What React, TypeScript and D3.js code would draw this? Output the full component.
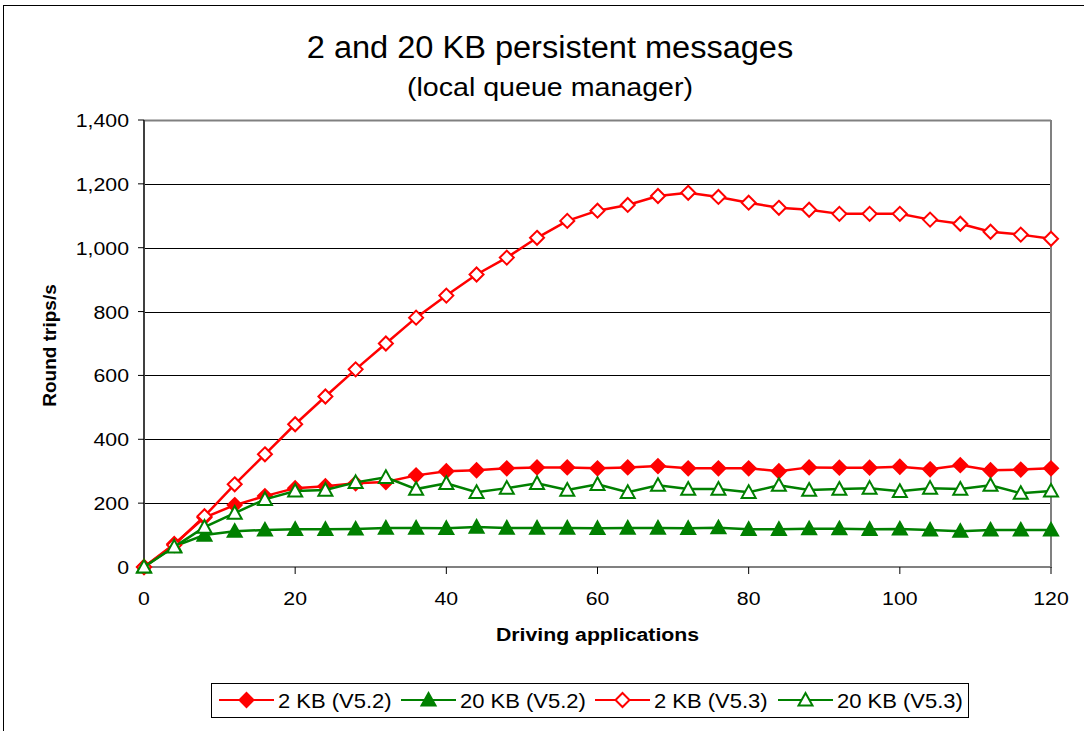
import React from "react";
import * as d3 from "d3";

// driving applications (x)
const apps = [0, 4, 8, 12, 16, 20, 24, 28, 32, 36, 40, 44, 48, 52, 56, 60, 64, 68, 72, 76, 80, 84, 88, 92, 96, 100, 104, 108, 112, 116, 120];

// round trips/s for each series
const kb2v52 = [0, 72, 155, 194, 222, 247, 253, 262, 266, 287, 300, 303, 309, 312, 312, 309, 312, 316, 309, 309, 309, 300, 312, 311, 311, 314, 306, 319, 303, 305, 309];
const kb20v52 = [0, 65, 100, 112, 116, 118, 118, 119, 122, 122, 121, 125, 122, 122, 122, 121, 122, 122, 121, 123, 118, 118, 120, 120, 118, 119, 116, 112, 116, 116, 116];
const kb2v53 = [0, 69, 159, 259, 353, 447, 534, 619, 700, 781, 850, 916, 969, 1031, 1084, 1116, 1134, 1162, 1172, 1159, 1141, 1125, 1119, 1106, 1106, 1106, 1088, 1075, 1050, 1041, 1028];
const kb20v53 = [0, 63, 125, 169, 212, 238, 241, 265, 281, 244, 262, 234, 247, 262, 241, 259, 234, 256, 244, 244, 234, 256, 241, 244, 247, 237, 247, 244, 256, 231, 238];

const series = [
  { name: "2 KB (V5.2)", values: kb2v52, color: "#ff0000", shape: "diamond", filled: true },
  { name: "20 KB (V5.2)", values: kb20v52, color: "#008000", shape: "triangle", filled: true },
  { name: "2 KB (V5.3)", values: kb2v53, color: "#ff0000", shape: "diamond", filled: false },
  { name: "20 KB (V5.3)", values: kb20v53, color: "#008000", shape: "triangle", filled: false },
];

const xTicks = [0, 20, 40, 60, 80, 100, 120];
const yTicks = [0, 200, 400, 600, 800, 1000, 1200, 1400];

const FONT = "Arial, 'Liberation Sans', sans-serif";

const Marker = ({ x, y, shape, color, filled }) => {
  const fill = filled ? color : "#fff";
  const r = 7;
  if (shape === "diamond") {
    return <path d={`M${x},${y - r}L${x + r},${y}L${x},${y + r}L${x - r},${y}Z`} fill={fill} stroke={color} strokeWidth={2} />;
  }
  return <path d={`M${x},${y - r}L${x + r},${y + r * 0.8}L${x - r},${y + r * 0.8}Z`} fill={fill} stroke={color} strokeWidth={2} />;
};

// text stretched a little horizontally, like the reference
const T = ({ x, y, sx = 1.1, anchor = "middle", size, bold = false, children }) => (
  <text transform={`translate(${x},${y}) scale(${sx},1)`} textAnchor={anchor} fontSize={size}
    fontWeight={bold ? "bold" : "normal"}>{children}</text>
);

export default function App() {
  const W = 1084, H = 731;
  const left = 144, right = 1051, top = 120, bottom = 567;

  const x = d3.scaleLinear().domain([0, 120]).range([left, right]);
  const y = d3.scaleLinear().domain([0, 1400]).range([bottom, top]);

  const line = d3.line<number>()
    .x((d, i) => x(apps[i]))
    .y(d => y(d));

  const legendItems = [
    { lx: 219, tx: 278 },
    { lx: 401, tx: 460 },
    { lx: 595, tx: 654 },
    { lx: 778, tx: 837 },
  ];

  return (
    <svg width={W} height={H} style={{ position: "absolute", left: 0, top: 0 }} fontFamily={FONT}>
      <rect x={0} y={0} width={W} height={H} fill="#fff" />
      <rect x={3.5} y={5.5} width={W + 10} height={H + 10} fill="none" stroke="#000" strokeWidth={1} />

      <T x={550} y={58} size={31} sx={1.05}>2 and 20 KB persistent messages</T>
      <T x={550} y={96} size={26} sx={1.1}>(local queue manager)</T>

      {/* gridlines */}
      {yTicks.map(t => (
        <line key={t} x1={left} x2={right} y1={Math.round(y(t)) + 0.5} y2={Math.round(y(t)) + 0.5}
          stroke={t === 1400 ? "#808080" : "#000"} strokeWidth={t === 1400 ? 2 : 1} />
      ))}
      {/* plot border right / bottom */}
      <line x1={right} x2={right} y1={top} y2={bottom} stroke="#808080" strokeWidth={2} />
      <line x1={left} x2={right + 1} y1={bottom} y2={bottom} stroke="#808080" strokeWidth={2} />
      <line x1={left} x2={left} y1={top} y2={bottom + 1} stroke="#404040" strokeWidth={2} />

      {/* y axis */}
      {yTicks.map(t => (
        <g key={t}>
          <line x1={left - 6} x2={left} y1={y(t)} y2={y(t)} stroke="#000" strokeWidth={1} />
          <T x={left - 15} y={y(t) + 7} anchor="end" size={19} sx={1.12}>{d3.format(",")(t)}</T>
        </g>
      ))}
      {/* x axis */}
      {xTicks.map(t => (
        <g key={t}>
          <line x1={x(t)} x2={x(t)} y1={bottom} y2={bottom + 7} stroke="#000" strokeWidth={1} />
          <T x={x(t)} y={bottom + 38} size={19} sx={1.12}>{t}</T>
        </g>
      ))}

      <text transform={`translate(56,${(top + bottom) / 2 + 2}) rotate(-90)`} textAnchor="middle" fontSize={19} fontWeight="bold">Round trips/s</text>
      <T x={(left + right) / 2} y={641} size={19} sx={1.12} bold>Driving applications</T>

      {/* series */}
      {series.map(s => (
        <g key={s.name}>
          <path d={line(s.values) || ""} fill="none" stroke={s.color} strokeWidth={2.5} />
          {s.values.map((v, i) => (
            <Marker key={i} x={x(apps[i])} y={y(v)} shape={s.shape} color={s.color} filled={s.filled} />
          ))}
        </g>
      ))}

      {/* legend */}
      <rect x={211.5} y={683.5} width={757} height={34} fill="#fff" stroke="#000" strokeWidth={1} />
      {series.map((s, i) => {
        const it = legendItems[i];
        return (
          <g key={s.name}>
            <line x1={it.lx} x2={it.lx + 55} y1={700} y2={700} stroke={s.color} strokeWidth={2} />
            <Marker x={it.lx + 27.5} y={700} shape={s.shape} color={s.color} filled={s.filled} />
            <T x={it.tx} y={708} anchor="start" size={20} sx={1.1}>{s.name}</T>
          </g>
        );
      })}
    </svg>
  );
}
